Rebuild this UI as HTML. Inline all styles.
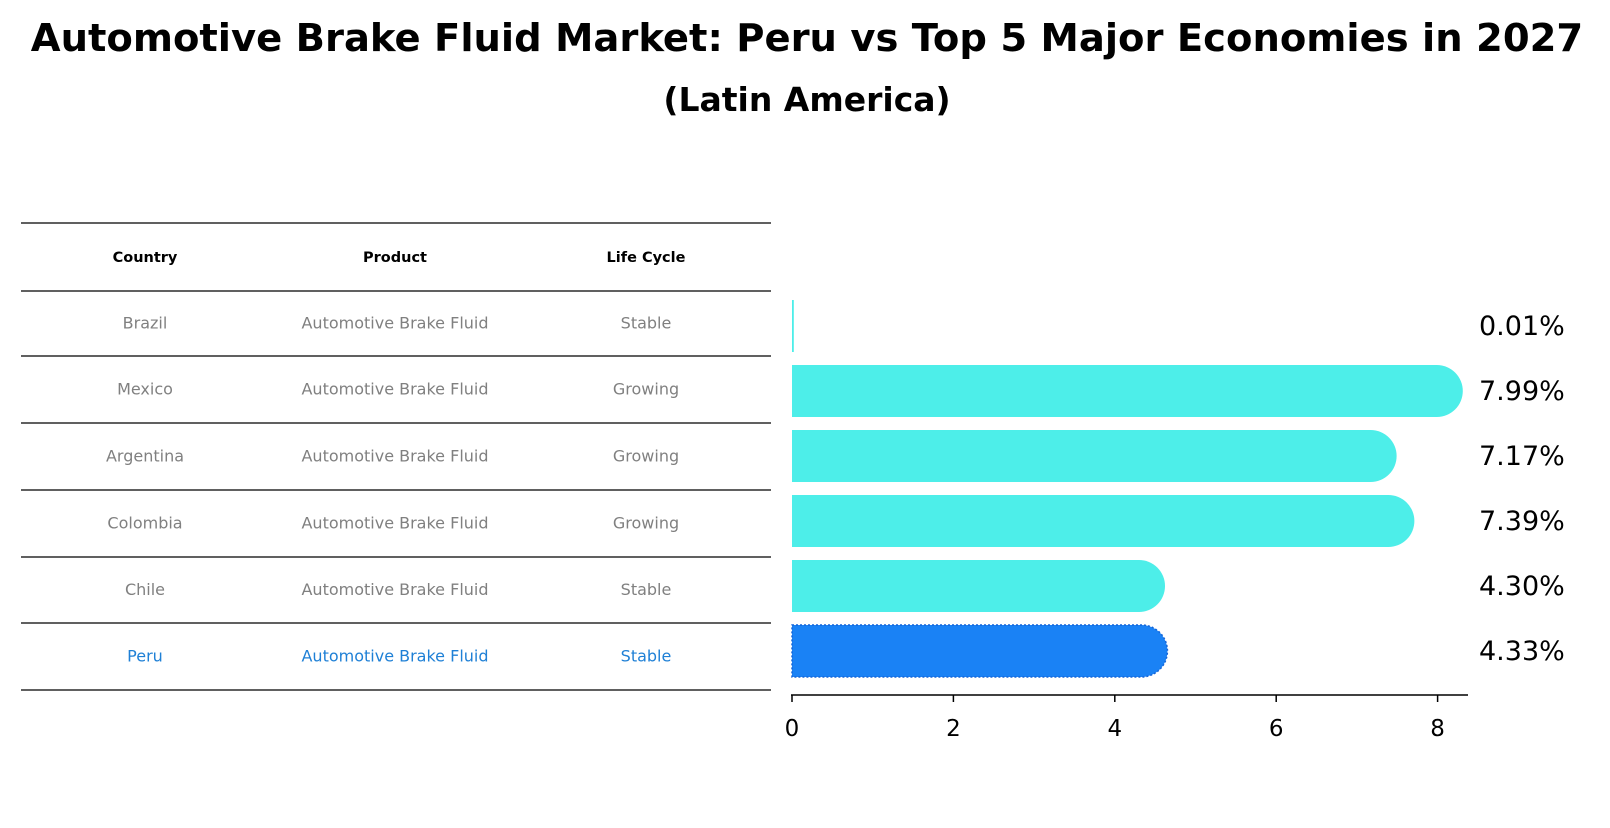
<!DOCTYPE html>
<html><head><meta charset="utf-8"><style>
body{margin:0;background:#fff;width:1610px;height:823px;overflow:hidden;font-family:"Liberation Sans","DejaVu Sans",sans-serif}
</style></head><body>
<svg id="chart" width="1610" height="823" xmlns="http://www.w3.org/2000/svg">
<text x="807" y="51" text-anchor="middle" font-size="38.5" font-weight="bold" font-family="DejaVu Sans, sans-serif">Automotive Brake Fluid Market: Peru vs Top 5 Major Economies in 2027</text>
<text x="807" y="111" text-anchor="middle" font-size="33" font-weight="bold" font-family="DejaVu Sans, sans-serif">(Latin America)</text>
<g id="table"></g>
<g id="bars"></g>
</svg>
<script>
const countries=["Brazil","Mexico","Argentina","Colombia","Chile","Peru"];
const products=["Automotive Brake Fluid","Automotive Brake Fluid","Automotive Brake Fluid","Automotive Brake Fluid","Automotive Brake Fluid","Automotive Brake Fluid"];
const lifecycle=["Stable","Growing","Growing","Growing","Stable","Stable"];
const values=[0.01,7.99,7.17,7.39,4.30,4.33];
const labels=["0.01%","7.99%","7.17%","7.39%","4.30%","4.33%"];
const ticks=[0,2,4,6,8];
const NS="http://www.w3.org/2000/svg";
function mk(t,a,p){const e=document.createElementNS(NS,t);for(const k in a)e.setAttribute(k,a[k]);p.appendChild(e);return e;}
const tb=document.getElementById('table'), bg=document.getElementById('bars');
const lines=[223,291,356,423,490,557,623,690];
lines.forEach((y,i)=>{const l=mk('line',{x1:21,x2:771,y1:y,y2:y,stroke:'#000','stroke-width':1.2},tb);

});
const cx=[145,395,646];
["Country","Product","Life Cycle"].forEach((h,i)=>{const t=mk('text',{x:cx[i],y:262,'text-anchor':'middle','font-size':14.5,'font-weight':'bold','font-family':'DejaVu Sans, sans-serif'},tb);t.textContent=h;

});
const x=v=>792+v*80.7;
const rowY=i=>326+i*65;
countries.forEach((c,i)=>{
 const ty=(lines[i+1]+lines[i+2])/2+5;
 const col=i===5?'#1f80d6':'#808080';
 [c,products[i],lifecycle[i]].forEach((s,j)=>{const t=mk('text',{x:cx[j],y:ty,'text-anchor':'middle','font-size':16,fill:col,'font-family':'DejaVu Sans, sans-serif'},tb);t.textContent=s;
 
 });
 const yc=rowY(i), h=52, r=26, xe=x(values[i]);
 const color=i===5?'#1a82f5':'#4deee9';
 let d;
 if(values[i]<0.2){d=`M${x(0)},${yc-h/2}H${xe+1}V${yc+h/2}H${x(0)}Z`;}
 else d=`M${x(0)},${yc-h/2}H${xe}A${r},${r} 0 0 1 ${xe},${yc+h/2}H${x(0)}Z`;
 const p=mk('path',{d:d,fill:color},bg);
 if(i===5){p.setAttribute('stroke','#1565d8');p.setAttribute('stroke-dasharray','2,2');p.setAttribute('stroke-width','1.5');}
 
 
 const t=mk('text',{x:1479,y:yc+9,'font-size':27,'font-family':'DejaVu Sans, sans-serif'},bg);t.textContent=labels[i];
 
 
});
const ax=mk('line',{x1:791,x2:1468,y1:695,y2:695,stroke:'#000','stroke-width':1.5},bg);


ticks.forEach(v=>{const l=mk('line',{x1:x(v),x2:x(v),y1:695,y2:702,stroke:'#000','stroke-width':1.5},bg);


const t=mk('text',{x:x(v),y:736,'text-anchor':'middle','font-size':23,'font-family':'DejaVu Sans, sans-serif'},bg);t.textContent=v;

});
</script>
</body></html>
